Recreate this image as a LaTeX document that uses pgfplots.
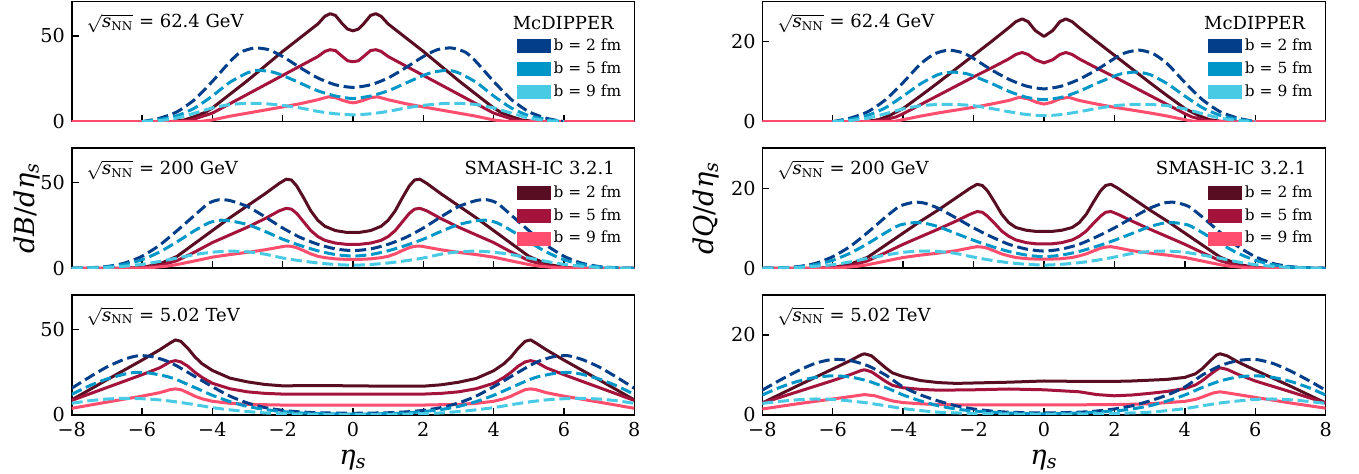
\documentclass[border=0pt]{standalone}
\usepackage{fontspec}
\setmainfont{DejaVu Serif}
\usepackage{pgfplots}
\pgfplotsset{compat=1.18}
\definecolor{bA}{HTML}{023E8A}
\definecolor{bB}{HTML}{0096C7}
\definecolor{bC}{HTML}{48CAE4}
\definecolor{rA}{HTML}{590D22}
\definecolor{rB}{HTML}{A4133C}
\definecolor{rC}{HTML}{FF4D6D}
\pgfplotsset{
  panel/.style={scale only axis, width=281.3pt, height=60pt, xmin=-8, xmax=8, ymin=0,
    axis line style={line width=0.8pt}, tick align=inside, major tick length=3.5pt,
    tick style={black, line width=0.7pt}, xtick={-8,-6,...,8}, xtick pos=bottom, ytick pos=left,
    tick label style={font=\fontsize{9.6}{11}\selectfont, inner sep=1pt},
    xticklabel style={yshift=-2.4pt}, yticklabel style={xshift=-2.2pt},
    clip=true,
    legend style={at={(0.983,0.72)}, anchor=north east, draw=none, fill=none,
      font=\fontsize{7.7}{9}\selectfont, row sep=0.9pt, inner sep=0pt, nodes={inner sep=1.6pt}},
    legend cell align=left},
  leftp/.style={ymax=70, ytick={0,50}, yticklabels={0,50}},
  rightp/.style={ymax=30, ytick={0,20}, yticklabels={0,20}},
  nox/.style={xticklabels={}},
  withx/.style={xticklabels={−8,−6,−4,−2,0,2,4,6,8},
    xlabel={\textit{η}\textsubscript{\textit{s}}},
    xlabel style={font=\fontsize{13.6}{15}\selectfont, at={(axis description cs:0.5,-0.375)}, anchor=center}},
  sA/.style={rA, line width=1.5pt, line join=round, forget plot},
  sB/.style={rB, line width=1.5pt, line join=round, forget plot},
  sC/.style={rC, line width=1.5pt, line join=round, forget plot},
  dA/.style={bA, line width=1.5pt, dash pattern=on 5.5pt off 2.4pt, smooth, tension=0.4, forget plot},
  dB/.style={bB, line width=1.5pt, dash pattern=on 5.5pt off 2.4pt, smooth, tension=0.4, forget plot},
  dC/.style={bC, line width=1.5pt, dash pattern=on 5.5pt off 2.4pt, smooth, tension=0.4, forget plot},
  patch/.style={legend image code/.code={\fill[#1] (0pt,-3.25pt) rectangle (16.5pt,3.25pt);}},
}
\newcommand{\sqs}{$\sqrt{\textit{s}\textsubscript{NN}}$}
\begin{document}
\begin{tikzpicture}
\useasboundingbox (0,0) rectangle (679.5pt,-237pt);
% ---------------- top left
\begin{axis}[panel, leftp, nox, at={(35.85pt,-0.85pt)}, anchor=north west]
\addlegendimage{patch=bA}\addlegendentry{b = 2 fm}
\addlegendimage{patch=bB}\addlegendentry{b = 5 fm}
\addlegendimage{patch=bC}\addlegendentry{b = 9 fm}
\addplot[sA] coordinates {(-8,0)(-5.2,0)(-4.8,1)(-4.5,3)(-4.2,5.5)(-4,8)(-3.5,16)(-3,24)(-2.5,32.5)(-2,41)(-1.5,49)(-1,57)(-0.8,61.5)(-0.65,63)(-0.5,62)(-0.3,57)(-0.15,54)(0,53)(0.15,54)(0.3,57)(0.5,62)(0.65,63)(0.8,61.5)(1,57)(1.5,49)(2,41)(2.5,32.5)(3,24)(3.5,16)(4,8)(4.2,5.5)(4.5,3)(4.8,1)(5.2,0)(8,0)};
\addplot[sB] coordinates {(-8,0)(-5,0)(-4.6,1)(-4.3,3)(-4,5)(-3.5,10.5)(-3,16)(-2.5,21.5)(-2,27)(-1.5,32.5)(-1,38)(-0.8,41)(-0.65,42)(-0.5,41.5)(-0.3,38)(-0.15,35.5)(0,35)(0.15,35.5)(0.3,38)(0.5,41.5)(0.65,42)(0.8,41)(1,38)(1.5,32.5)(2,27)(2.5,21.5)(3,16)(3.5,10.5)(4,5)(4.3,3)(4.6,1)(5,0)(8,0)};
\addplot[sC] coordinates {(-8,0)(-4.4,0)(-4,1)(-3.5,3.2)(-3,5)(-2.5,6.8)(-2,8.6)(-1.5,10.5)(-1,12.8)(-0.7,14.5)(-0.5,14)(-0.3,12.5)(-0.1,11.3)(0,11)(0.1,11.3)(0.3,12.5)(0.5,14)(0.7,14.5)(1,12.8)(1.5,10.5)(2,8.6)(2.5,6.8)(3,5)(3.5,3.2)(4,1)(4.4,0)(8,0)};
\addplot[dA] coordinates {(-6,0)(-5.5,2)(-5,5.8)(-4.5,13)(-4,23.5)(-3.5,35)(-3.2,40.5)(-2.8,43)(-2.4,42)(-2,38)(-1.5,31.5)(-1,25.5)(-0.5,21.5)(0,20)(0.5,21.5)(1,25.5)(1.5,31.5)(2,38)(2.4,42)(2.8,43)(3.2,40.5)(3.5,35)(4,23.5)(4.5,13)(5,5.8)(5.5,2)(6,0)};
\addplot[dB] coordinates {(-6,0)(-5.5,1.3)(-5,3.5)(-4.5,8)(-4,15)(-3.5,23)(-3,28.5)(-2.7,30)(-2.3,29)(-2,27)(-1.5,22.5)(-1,18)(-0.5,15)(0,13.5)(0.5,15)(1,18)(1.5,22.5)(2,27)(2.3,29)(2.7,30)(3,28.5)(3.5,23)(4,15)(4.5,8)(5,3.5)(5.5,1.3)(6,0)};
\addplot[dC] coordinates {(-6,0)(-5.5,0.6)(-5,2.2)(-4.5,5)(-4,8)(-3.5,10)(-3,10.7)(-2.5,10.5)(-2,9.5)(-1.5,8)(-1,6)(-0.5,4.6)(0,4)(0.5,4.6)(1,6)(1.5,8)(2,9.5)(2.5,10.5)(3,10.7)(3.5,10)(4,8)(4.5,5)(5,2.2)(5.5,0.6)(6,0)};
\node[anchor=west, font=\fontsize{9}{10}\selectfont] at (rel axis cs:0.014,0.82) {\sqs{} = 62.4 GeV};
\node[anchor=east, font=\fontsize{9}{10}\selectfont] at (rel axis cs:0.976,0.82) {McDIPPER};
\end{axis}
% ---------------- top right
\begin{axis}[panel, rightp, nox, at={(381.15pt,-0.85pt)}, anchor=north west, width=281.7pt]
\addlegendimage{patch=bA}\addlegendentry{b = 2 fm}
\addlegendimage{patch=bB}\addlegendentry{b = 5 fm}
\addlegendimage{patch=bC}\addlegendentry{b = 9 fm}
\addplot[sA] coordinates {(-8,0)(-5.1,0)(-4.7,0.5)(-4.4,1.5)(-4,3.3)(-3.5,6.5)(-3,9.8)(-2.5,13.2)(-2,16.6)(-1.5,20)(-1,23.5)(-0.8,25)(-0.62,25.7)(-0.45,25)(-0.25,22.8)(0,21.3)(0.25,22.8)(0.45,25)(0.62,25.7)(0.8,25)(1,23.5)(1.5,20)(2,16.6)(2.5,13.2)(3,9.8)(3.5,6.5)(4,3.3)(4.4,1.5)(4.7,0.5)(5.1,0)(8,0)};
\addplot[sB] coordinates {(-8,0)(-4.9,0)(-4.5,0.5)(-4.2,1.2)(-4,2)(-3.5,4.3)(-3,6.6)(-2.5,8.9)(-2,11.2)(-1.5,13.4)(-1,15.7)(-0.8,16.8)(-0.62,17.3)(-0.45,16.8)(-0.25,15.5)(0,14.7)(0.25,15.5)(0.45,16.8)(0.62,17.3)(0.8,16.8)(1,15.7)(1.5,13.4)(2,11.2)(2.5,8.9)(3,6.6)(3.5,4.3)(4,2)(4.2,1.2)(4.5,0.5)(4.9,0)(8,0)};
\addplot[sC] coordinates {(-8,0)(-4.3,0)(-4,0.5)(-3.5,1.4)(-3,2.2)(-2.5,2.9)(-2,3.6)(-1.5,4.4)(-1,5.3)(-0.7,6.1)(-0.45,5.7)(-0.2,4.8)(0,4.4)(0.2,4.8)(0.45,5.7)(0.7,6.1)(1,5.3)(1.5,4.4)(2,3.6)(2.5,2.9)(3,2.2)(3.5,1.4)(4,0.5)(4.3,0)(8,0)};
\addplot[dA] coordinates {(-6,0)(-5.5,0.9)(-5,2.5)(-4.5,5.5)(-4,9.8)(-3.5,14.5)(-3.1,17)(-2.7,17.9)(-2.3,17.2)(-2,15.8)(-1.5,13)(-1,10.6)(-0.5,8.9)(0,8.2)(0.5,8.9)(1,10.6)(1.5,13)(2,15.8)(2.3,17.2)(2.7,17.9)(3.1,17)(3.5,14.5)(4,9.8)(4.5,5.5)(5,2.5)(5.5,0.9)(6,0)};
\addplot[dB] coordinates {(-6,0)(-5.5,0.6)(-5,1.6)(-4.5,3.5)(-4,6.4)(-3.5,9.5)(-3,11.8)(-2.6,12.4)(-2.2,12)(-2,11.4)(-1.5,9.6)(-1,7.6)(-0.5,6.1)(0,5.5)(0.5,6.1)(1,7.6)(1.5,9.6)(2,11.4)(2.2,12)(2.6,12.4)(3,11.8)(3.5,9.5)(4,6.4)(4.5,3.5)(5,1.6)(5.5,0.6)(6,0)};
\addplot[dC] coordinates {(-6,0)(-5.5,0.3)(-5,0.9)(-4.5,2)(-4,3.2)(-3.5,4)(-3,4.3)(-2.5,4.3)(-2,4)(-1.5,3.3)(-1,2.5)(-0.5,1.8)(0,1.5)(0.5,1.8)(1,2.5)(1.5,3.3)(2,4)(2.5,4.3)(3,4.3)(3.5,4)(4,3.2)(4.5,2)(5,0.9)(5.5,0.3)(6,0)};
\node[anchor=west, font=\fontsize{9}{10}\selectfont] at (rel axis cs:0.014,0.82) {\sqs{} = 62.4 GeV};
\node[anchor=east, font=\fontsize{9}{10}\selectfont] at (rel axis cs:0.976,0.82) {McDIPPER};
\end{axis}
% ---------------- middle left
\begin{axis}[panel, leftp, nox, at={(35.85pt,-74.15pt)}, anchor=north west,
  ylabel={\textit{dB}/\textit{dη}\textsubscript{\textit{s}}},
  ylabel style={font=\fontsize{13.6}{15}\selectfont, at={(axis description cs:-0.08,0.5)}, anchor=center}]
\addlegendimage{patch=rA}\addlegendentry{b = 2 fm}
\addlegendimage{patch=rB}\addlegendentry{b = 5 fm}
\addlegendimage{patch=rC}\addlegendentry{b = 9 fm}
\addplot[sA] coordinates {(-8,0)(-6.5,0)(-6,0.5)(-5.5,2.5)(-5,7)(-4.5,14.5)(-4,22)(-3.5,29.5)(-3,36.5)(-2.5,43.5)(-2.1,49.5)(-1.9,52)(-1.75,51.5)(-1.6,48)(-1.4,41)(-1.2,33.5)(-1,28)(-0.8,24.5)(-0.5,22)(-0.2,21)(0,21)(0.2,21)(0.5,22)(0.8,24.5)(1,28)(1.2,33.5)(1.4,41)(1.6,48)(1.75,51.5)(1.9,52)(2.1,49.5)(2.5,43.5)(3,36.5)(3.5,29.5)(4,22)(4.5,14.5)(5,7)(5.5,2.5)(6,0.5)(6.5,0)(8,0)};
\addplot[sB] coordinates {(-8,0)(-6.5,0)(-6,0.3)(-5.5,1.5)(-5,4.5)(-4.5,9.5)(-4,15)(-3.5,19.5)(-3,24)(-2.5,29)(-2.1,33.5)(-1.9,35)(-1.75,34.5)(-1.6,32)(-1.4,27)(-1.2,22)(-1,18.5)(-0.8,16.3)(-0.5,14.7)(-0.2,14)(0,14)(0.2,14)(0.5,14.7)(0.8,16.3)(1,18.5)(1.2,22)(1.4,27)(1.6,32)(1.75,34.5)(1.9,35)(2.1,33.5)(2.5,29)(3,24)(3.5,19.5)(4,15)(4.5,9.5)(5,4.5)(5.5,1.5)(6,0.3)(6.5,0)(8,0)};
\addplot[sC] coordinates {(-8,0)(-6.3,0)(-5.8,0.3)(-5.3,1.2)(-5,2.2)(-4.5,4.3)(-4,6.5)(-3.5,8)(-3,9.3)(-2.5,10.8)(-2.1,12.3)(-1.9,13)(-1.75,12.8)(-1.6,12)(-1.4,10.3)(-1.2,8.4)(-1,7)(-0.8,6.2)(-0.5,5.5)(-0.2,5.2)(0,5.2)(0.2,5.2)(0.5,5.5)(0.8,6.2)(1,7)(1.2,8.4)(1.4,10.3)(1.6,12)(1.75,12.8)(1.9,13)(2.1,12.3)(2.5,10.8)(3,9.3)(3.5,8)(4,6.5)(4.5,4.3)(5,2.2)(5.3,1.2)(5.8,0.3)(6.3,0)(8,0)};
\addplot[dA] coordinates {(-8,0)(-7.5,0.3)(-7,1)(-6.5,3)(-6,7)(-5.5,13.5)(-5,22)(-4.5,31)(-4.1,38)(-3.8,40)(-3.5,39.5)(-3,36)(-2.5,30)(-2,23.5)(-1.5,18)(-1,14)(-0.5,11.3)(0,10.3)(0.5,11.3)(1,14)(1.5,18)(2,23.5)(2.5,30)(3,36)(3.5,39.5)(3.8,40)(4.1,38)(4.5,31)(5,22)(5.5,13.5)(6,7)(6.5,3)(7,1)(7.5,0.3)(8,0)};
\addplot[dB] coordinates {(-8,0)(-7.5,0.3)(-7,0.8)(-6.5,2.3)(-6,5)(-5.5,9.5)(-5,15.5)(-4.5,22)(-4.1,26.5)(-3.8,28)(-3.5,27.7)(-3,25.5)(-2.5,21.5)(-2,17)(-1.5,13.3)(-1,10.2)(-0.5,8)(0,7.1)(0.5,8)(1,10.2)(1.5,13.3)(2,17)(2.5,21.5)(3,25.5)(3.5,27.7)(3.8,28)(4.1,26.5)(4.5,22)(5,15.5)(5.5,9.5)(6,5)(6.5,2.3)(7,0.8)(7.5,0.3)(8,0)};
\addplot[dC] coordinates {(-8,0)(-7.5,0.2)(-7,0.5)(-6.5,1.2)(-6,2.3)(-5.5,4)(-5,6)(-4.5,8)(-4,9.4)(-3.5,10)(-3,9.6)(-2.5,8.2)(-2,6)(-1.5,4.4)(-1,3.1)(-0.5,2.2)(0,1.8)(0.5,2.2)(1,3.1)(1.5,4.4)(2,6)(2.5,8.2)(3,9.6)(3.5,10)(4,9.4)(4.5,8)(5,6)(5.5,4)(6,2.3)(6.5,1.2)(7,0.5)(7.5,0.2)(8,0)};
\node[anchor=west, font=\fontsize{9}{10}\selectfont] at (rel axis cs:0.014,0.82) {\sqs{} = 200 GeV};
\node[anchor=east, font=\fontsize{9}{10}\selectfont] at (rel axis cs:0.978,0.835) {SMASH-IC 3.2.1};
\end{axis}
% ---------------- middle right
\begin{axis}[panel, rightp, nox, at={(381.15pt,-74.15pt)}, anchor=north west, width=281.7pt,
  ylabel={\textit{dQ}/\textit{dη}\textsubscript{\textit{s}}},
  ylabel style={font=\fontsize{13.6}{15}\selectfont, at={(axis description cs:-0.1,0.5)}, anchor=center}]
\addlegendimage{patch=rA}\addlegendentry{b = 2 fm}
\addlegendimage{patch=rB}\addlegendentry{b = 5 fm}
\addlegendimage{patch=rC}\addlegendentry{b = 9 fm}
\addplot[sA] coordinates {(-8,0)(-6.5,0)(-6,0.2)(-5.5,1)(-5,2.8)(-4.5,5.8)(-4,8.8)(-3.5,11.8)(-3,14.6)(-2.5,17.6)(-2.1,20)(-1.9,21)(-1.75,20.7)(-1.6,19.3)(-1.4,16.5)(-1.2,13.5)(-1,11.4)(-0.8,10.2)(-0.5,9.5)(-0.2,9.2)(0,9.2)(0.2,9.2)(0.5,9.5)(0.8,10.2)(1,11.4)(1.2,13.5)(1.4,16.5)(1.6,19.3)(1.75,20.7)(1.9,21)(2.1,20)(2.5,17.6)(3,14.6)(3.5,11.8)(4,8.8)(4.5,5.8)(5,2.8)(5.5,1)(6,0.2)(6.5,0)(8,0)};
\addplot[sB] coordinates {(-8,0)(-6.5,0)(-6,0.1)(-5.5,0.6)(-5,1.9)(-4.5,3.9)(-4,6)(-3.5,7.9)(-3,9.8)(-2.5,11.8)(-2.1,13.5)(-1.9,14.2)(-1.75,14)(-1.6,13)(-1.4,11.2)(-1.2,9.3)(-1,8)(-0.8,7.1)(-0.5,6.4)(-0.2,6.1)(0,6.1)(0.2,6.1)(0.5,6.4)(0.8,7.1)(1,8)(1.2,9.3)(1.4,11.2)(1.6,13)(1.75,14)(1.9,14.2)(2.1,13.5)(2.5,11.8)(3,9.8)(3.5,7.9)(4,6)(4.5,3.9)(5,1.9)(5.5,0.6)(6,0.1)(6.5,0)(8,0)};
\addplot[sC] coordinates {(-8,0)(-6.3,0)(-5.8,0.1)(-5.3,0.5)(-5,0.9)(-4.5,1.8)(-4,2.7)(-3.5,3.3)(-3,3.8)(-2.5,4.4)(-2.1,5.1)(-1.9,5.4)(-1.75,5.3)(-1.6,5)(-1.4,4.3)(-1.2,3.6)(-1,3.1)(-0.8,2.7)(-0.5,2.4)(-0.2,2.3)(0,2.3)(0.2,2.3)(0.5,2.4)(0.8,2.7)(1,3.1)(1.2,3.6)(1.4,4.3)(1.6,5)(1.75,5.3)(1.9,5.4)(2.1,5.1)(2.5,4.4)(3,3.8)(3.5,3.3)(4,2.7)(4.5,1.8)(5,0.9)(5.3,0.5)(5.8,0.1)(6.3,0)(8,0)};
\addplot[dA] coordinates {(-8,0)(-7.5,0.1)(-7,0.4)(-6.5,1.2)(-6,2.9)(-5.5,5.5)(-5,9)(-4.5,12.8)(-4.1,15.5)(-3.7,16.5)(-3.4,16.3)(-3,15)(-2.5,12.6)(-2,10.1)(-1.5,7.9)(-1,6)(-0.5,4.8)(0,4.3)(0.5,4.8)(1,6)(1.5,7.9)(2,10.1)(2.5,12.6)(3,15)(3.4,16.3)(3.7,16.5)(4.1,15.5)(4.5,12.8)(5,9)(5.5,5.5)(6,2.9)(6.5,1.2)(7,0.4)(7.5,0.1)(8,0)};
\addplot[dB] coordinates {(-8,0)(-7.5,0.1)(-7,0.3)(-6.5,0.9)(-6,2)(-5.5,3.8)(-5,6.2)(-4.5,8.9)(-4.1,10.8)(-3.7,11.4)(-3.4,11.3)(-3,10.4)(-2.5,8.7)(-2,7)(-1.5,5.5)(-1,4.2)(-0.5,3.3)(0,2.9)(0.5,3.3)(1,4.2)(1.5,5.5)(2,7)(2.5,8.7)(3,10.4)(3.4,11.3)(3.7,11.4)(4.1,10.8)(4.5,8.9)(5,6.2)(5.5,3.8)(6,2)(6.5,0.9)(7,0.3)(7.5,0.1)(8,0)};
\addplot[dC] coordinates {(-8,0)(-7.5,0.1)(-7,0.2)(-6.5,0.5)(-6,0.9)(-5.5,1.6)(-5,2.5)(-4.5,3.3)(-4,4)(-3.5,4.3)(-3,4.2)(-2.5,3.7)(-2,2.8)(-1.5,2)(-1,1.4)(-0.5,1)(0,0.8)(0.5,1)(1,1.4)(1.5,2)(2,2.8)(2.5,3.7)(3,4.2)(3.5,4.3)(4,4)(4.5,3.3)(5,2.5)(5.5,1.6)(6,0.9)(6.5,0.5)(7,0.2)(7.5,0.1)(8,0)};
\node[anchor=west, font=\fontsize{9}{10}\selectfont] at (rel axis cs:0.014,0.82) {\sqs{} = 200 GeV};
\node[anchor=east, font=\fontsize{9}{10}\selectfont] at (rel axis cs:0.978,0.835) {SMASH-IC 3.2.1};
\end{axis}
% ---------------- bottom left
\begin{axis}[panel, leftp, withx, at={(35.85pt,-147.5pt)}, anchor=north west]
\addplot[sA] coordinates {(-8,8.8)(-7,20.5)(-6,32)(-5.5,38)(-5.2,42)(-5.05,43.8)(-4.9,43)(-4.7,39)(-4.5,34)(-4.3,30)(-4,26)(-3.5,21.5)(-3,19.3)(-2.5,17.8)(-2,17)(-1,17.2)(0,17)(1,16.8)(2,16.8)(2.5,17.6)(3,19.1)(3.5,21.3)(4,25.8)(4.3,30)(4.5,34)(4.7,39)(4.9,43)(5.05,43.8)(5.2,42)(5.5,38)(6,32)(7,20.5)(8,8.8)};
\addplot[sB] coordinates {(-8,8.5)(-7,16)(-6,23.5)(-5.5,27.5)(-5.2,31)(-5.05,31.7)(-4.9,31)(-4.7,28.5)(-4.5,25)(-4.3,22)(-4,18.5)(-3.5,15.3)(-3,13.5)(-2.5,12.6)(-2,12.2)(0,12.2)(2,12.2)(2.5,12.6)(3,13.5)(3.5,15.3)(4,18.5)(4.3,22)(4.5,25)(4.7,28.5)(4.9,31)(5.05,31.7)(5.2,31)(5.5,27.5)(6,23.5)(7,16)(8,8.5)};
\addplot[sC] coordinates {(-8,3.9)(-7,7.5)(-6,11)(-5.5,13)(-5.2,14.8)(-5.05,15.2)(-4.9,14.8)(-4.7,13)(-4.5,11)(-4.3,9.5)(-4,8)(-3.5,6.8)(-3,6.2)(-2,5.8)(0,5.8)(2,5.8)(3,6.2)(3.5,6.8)(4,8)(4.3,9.5)(4.5,11)(4.7,13)(4.9,14.8)(5.05,15.2)(5.2,14.8)(5.5,13)(6,11)(7,7.5)(8,3.9)};
\addplot[dA] coordinates {(-8,15.6)(-7.5,22)(-7,28)(-6.5,32.5)(-6.1,34.6)(-5.7,34)(-5.3,31.5)(-5,28.5)(-4.5,22.5)(-4,16.5)(-3.5,11)(-3,7)(-2.5,4.3)(-2,2.7)(-1.5,1.8)(-1,1.3)(0,1)(1,1.3)(1.5,1.8)(2,2.7)(2.5,4.3)(3,7)(3.5,11)(4,16.5)(4.5,22.5)(5,28.5)(5.3,31.5)(5.7,34)(6.1,34.6)(6.5,32.5)(7,28)(7.5,22)(8,15.6)};
\addplot[dB] coordinates {(-8,12)(-7.5,17)(-7,21)(-6.5,23.8)(-6.2,24.8)(-5.8,24.5)(-5.3,22.5)(-5,20.5)(-4.5,16)(-4,11.5)(-3.5,7.8)(-3,5)(-2.5,3.2)(-2,2)(-1.5,1.2)(-1,0.8)(0,0.5)(1,0.8)(1.5,1.2)(2,2)(2.5,3.2)(3,5)(3.5,7.8)(4,11.5)(4.5,16)(5,20.5)(5.3,22.5)(5.8,24.5)(6.2,24.8)(6.5,23.8)(7,21)(7.5,17)(8,12)};
\addplot[dC] coordinates {(-8,6.8)(-7.5,8.3)(-7,9.3)(-6.5,9.7)(-6,9.5)(-5.5,8.8)(-5,7.6)(-4.5,6)(-4,4.3)(-3.5,3)(-3,2)(-2.5,1.2)(-2,0.8)(-1,0.4)(0,0.3)(1,0.4)(2,0.8)(2.5,1.2)(3,2)(3.5,3)(4,4.3)(4.5,6)(5,7.6)(5.5,8.8)(6,9.5)(6.5,9.7)(7,9.3)(7.5,8.3)(8,6.8)};
\node[anchor=west, font=\fontsize{9}{10}\selectfont] at (rel axis cs:0.014,0.82) {\sqs{} = 5.02 TeV};
\end{axis}
% ---------------- bottom right
\begin{axis}[panel, rightp, withx, at={(381.15pt,-147.5pt)}, anchor=north west, width=281.7pt]
\addplot[sA] coordinates {(-8,3)(-7,7.3)(-6,11.5)(-5.5,13.6)(-5.2,15)(-5.1,15.3)(-4.9,14.8)(-4.7,13.3)(-4.5,11.8)(-4.3,10.5)(-4,9.6)(-3.5,8.6)(-3,8.1)(-2.5,7.9)(-2,8)(-1,8.2)(0,8.5)(1,8.4)(2,8.4)(2.5,8.5)(3,8.7)(3.5,8.9)(4,9.4)(4.3,10.3)(4.5,11.6)(4.7,13.4)(4.9,15)(5,15.3)(5.2,14.8)(5.5,13.3)(6,11.2)(7,7.2)(8,3)};
\addplot[sB] coordinates {(-8,3)(-7,5.8)(-6,8.6)(-5.5,10.1)(-5.2,11.1)(-5.1,11.3)(-4.9,10.8)(-4.7,9.6)(-4.5,8.4)(-4.3,7.4)(-4,6.8)(-3.5,6.4)(-3,6.2)(-2,6.3)(-1,6.5)(0,6.3)(1,5.8)(1.5,5.1)(2,4.8)(2.5,5)(3,5.4)(3.5,5.9)(4,6.6)(4.3,7.5)(4.5,8.6)(4.7,10)(4.9,11.3)(5,11.8)(5.2,11.4)(5.5,10.2)(6,8.5)(7,5.8)(8,3)};
\addplot[sC] coordinates {(-8,1.5)(-7,2.8)(-6,4)(-5.5,4.6)(-5.1,5.1)(-4.8,4.8)(-4.5,4)(-4.3,3.5)(-4,3.1)(-3.5,2.8)(-3,2.6)(-2,2.5)(0,2.5)(2,2.6)(3,2.8)(4,3.4)(4.3,3.9)(4.5,4.5)(4.8,5.5)(5,5.8)(5.3,5.4)(6,4.4)(7,3)(8,1.7)};
\addplot[dA] coordinates {(-8,6.2)(-7.5,8.7)(-7,11)(-6.5,12.9)(-6,13.9)(-5.5,13.6)(-5,12.3)(-4.5,10)(-4,7)(-3.5,5)(-3,3.5)(-2.5,2.3)(-2,1.5)(-1.5,1)(-1,0.7)(0,0.5)(1,0.7)(1.5,1)(2,1.5)(2.5,2.3)(3,3.5)(3.5,5)(4,7)(4.5,10)(5,12.3)(5.5,13.6)(6,13.9)(6.5,12.9)(7,11)(7.5,8.7)(8,6.2)};
\addplot[dB] coordinates {(-8,5)(-7.5,6.9)(-7,8.4)(-6.5,9.4)(-6,9.8)(-5.5,9.5)(-5,8.5)(-4.5,6.9)(-4,5)(-3.5,3.5)(-3,2.3)(-2.5,1.5)(-2,1)(-1,0.5)(0,0.3)(1,0.5)(2,1)(2.5,1.5)(3,2.3)(3.5,3.5)(4,5)(4.5,6.9)(5,8.5)(5.5,9.5)(6,9.8)(6.5,9.4)(7,8.4)(7.5,6.9)(8,5)};
\addplot[dC] coordinates {(-8,2.9)(-7.5,3.4)(-7,3.8)(-6.5,4)(-6,3.9)(-5.5,3.5)(-5,3)(-4.5,2.3)(-4,1.6)(-3.5,1.1)(-3,0.7)(-2,0.4)(0,0.2)(2,0.4)(3,0.7)(3.5,1.1)(4,1.6)(4.5,2.3)(5,3)(5.5,3.5)(6,3.9)(6.5,4)(7,3.8)(7.5,3.4)(8,2.9)};
\node[anchor=west, font=\fontsize{9}{10}\selectfont] at (rel axis cs:0.014,0.82) {\sqs{} = 5.02 TeV};
\end{axis}
\end{tikzpicture}
\end{document}
